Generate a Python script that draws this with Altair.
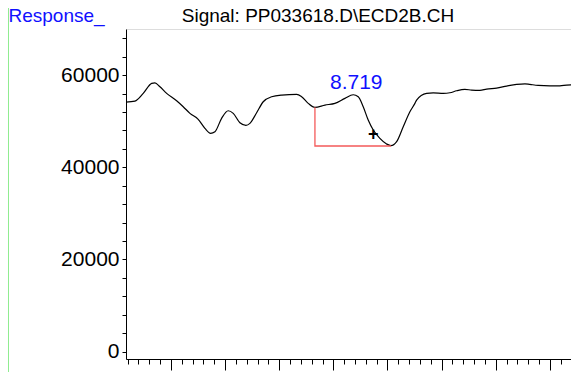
import altair as alt
import pandas as pd

FONT = "Liberation Sans"

# Trace: retention time (min) and detector response
time = [8.317, 8.3335, 8.3488, 8.3644, 8.3704, 8.3797, 8.3921, 8.4105, 8.4227, 8.4351,
        8.4504, 8.4628, 8.4733, 8.4813, 8.4936, 8.5058, 8.5151, 8.5274, 8.5385, 8.5459,
        8.5583, 8.5705, 8.5860, 8.6045, 8.6322, 8.6414, 8.6536, 8.6660, 8.6845, 8.7029,
        8.7214, 8.7367, 8.7460, 8.7552, 8.7644, 8.7737, 8.7860, 8.7984, 8.8064, 8.8169,
        8.8291, 8.8414, 8.8507, 8.8538, 8.8723, 8.8845, 8.9030, 8.9153, 8.9277, 8.9430,
        8.9554, 8.9708, 8.9831, 9.0016, 9.0201, 9.0385, 9.0539, 9.0631, 9.0784, 9.1000,
        9.1185, 9.1309, 9.1431]
response = [54148, 54364, 56032, 58198, 58328, 57462, 56032, 54429, 53130, 51700,
            50401, 48451, 47368, 47715, 50617, 52263, 51700, 49664, 49101, 49534,
            51830, 54213, 55296, 55664, 55815, 55296, 53866, 52999, 53498, 53866,
            54949, 55729, 55296, 53130, 50249, 48083, 46285, 45051, 44683, 45549,
            48798, 52047, 53866, 54581, 56032, 56162, 56032, 56162, 56595, 56898,
            56747, 56682, 56963, 57180, 57613, 57981, 58111, 57981, 57765, 57678,
            57678, 57830, 57895]

# Integration baseline (red)
base_time = [8.6660, 8.6660, 8.8064]
base_resp = [52999, 44618, 44618]
base_order = [0, 1, 2]

# Peak label and marker
peak_label = ["8.719"]
label_time = [8.7423]
label_resp = [58263]
marker_time = [8.7737]
marker_resp = [47000]

x_ticks = [round(8.32 + 0.02 * i, 2) for i in range(42)]
y_ticks = [4000 * i for i in range(18)]

trace = pd.DataFrame({"t": time, "r": response})
base = pd.DataFrame({"t": base_time, "r": base_resp, "o": base_order})
lab = pd.DataFrame({"t": label_time, "r": label_resp, "s": peak_label})
mark = pd.DataFrame({"t": marker_time, "r": marker_resp, "s": ["+"]})

xs = alt.Scale(domain=[8.317, 9.139], nice=False, zero=False)
ys = alt.Scale(domain=[-1600, 70000], nice=False, zero=False)

x_axis = alt.Axis(
    values=x_ticks, labels=False, grid=False,
    domainColor="black", tickColor="black", domainWidth=1, tickWidth=1,
    tickSize={"condition": {"test": "abs(datum.value*10 - round(datum.value*10)) < 0.001", "value": 11}, "value": 5},
    title="Signal: PP033618.D\\ECD2B.CH", titleX=191.5, titleY=-338, titleAngle=0,
    titleAlign="center", titleBaseline="alphabetic", titleColor="black",
    titleFontSize=19, titleFontWeight="normal", titleFont=FONT,
)
y_axis = alt.Axis(
    values=y_ticks, format="d", grid=False,
    labelExpr="datum.value % 20000 == 0 ? datum.label : ''",
    labelOverlap=False, labelFontSize=21, labelFont=FONT, labelColor="black", labelPadding=3,
    tickSize=4, tickColor="black", domainColor="black",
    title="Response_", titleAngle=0, titleX=-118, titleY=-8, titleAlign="left",
    titleBaseline="alphabetic", titleColor="#1010ff", titleFontSize=19,
    titleFontWeight="normal", titleFont=FONT,
)

X = alt.X("t:Q", scale=xs, axis=x_axis)
Y = alt.Y("r:Q", scale=ys, axis=y_axis)

line = alt.Chart(trace).mark_line(color="black", strokeWidth=1.2, interpolate="monotone").encode(x=X, y=Y)
baseline = alt.Chart(base).mark_line(color="#f45a5a", strokeWidth=1.3).encode(x=X, y=Y, order="o:Q")
label = alt.Chart(lab).mark_text(color="#1010ff", fontSize=21, font=FONT, baseline="middle", align="center").encode(x=X, y=Y, text="s:N")
plus = alt.Chart(mark).mark_text(color="black", fontSize=18, fontWeight="bold", font=FONT, baseline="middle", align="center").encode(x=X, y=Y, text="s:N")
frame = alt.Chart(pd.DataFrame({"d": [0]})).mark_rule(color="#90ec90", strokeWidth=1).encode(
    x=alt.value(-117.5), y=alt.value(-21), y2=alt.value(345)
)

chart = alt.layer(frame, line, baseline, label, plus).properties(
    width=445, height=330,
    autosize=alt.AutoSizeParams(type="none"),
    padding={"left": 118, "top": 21, "right": 0, "bottom": 13},
).configure_view(stroke=None).configure(background="white")

chart.save("out.html", embed_options={"renderer": "svg", "actions": False})
